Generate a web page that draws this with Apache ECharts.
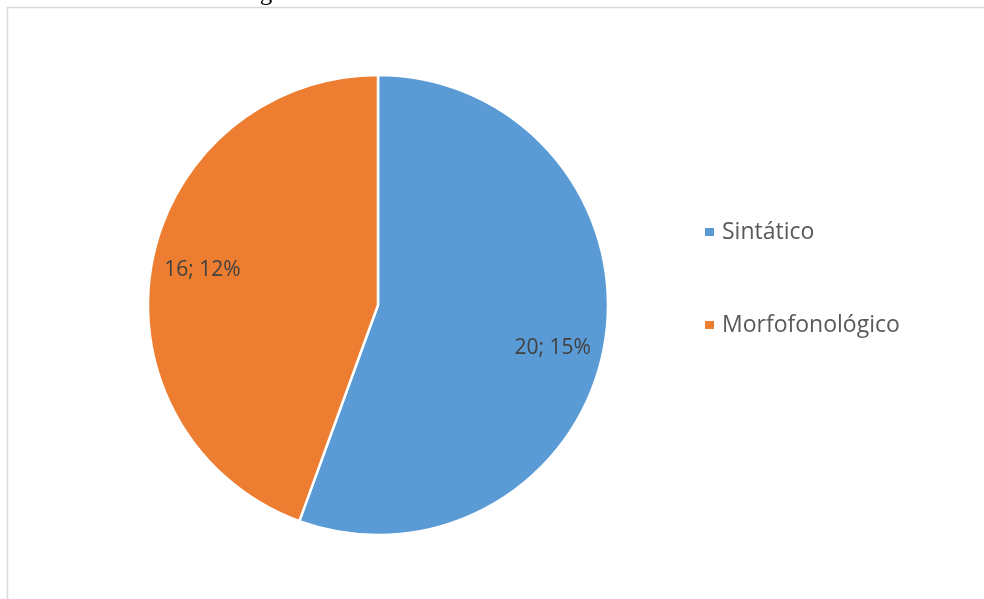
<!DOCTYPE html>
<html>
<head>
<meta charset="utf-8">
<script src="https://cdn.jsdelivr.net/npm/echarts@6/dist/echarts.min.js"></script>
<style>
  html, body { margin: 0; padding: 0; background: #ffffff; }
  #chart { width: 984px; height: 599px; }
</style>
</head>
<body>
<div id="chart"></div>
<script>
// Grammatical interference by type: occurrences and share of the total
const categories = ['Sintático', 'Morfofonológico'];
const counts = [20, 16];
const shares = [15, 12];
const colors = ['#5B9BD5', '#ED7D31'];
// small nudges so each label sits where the layout puts it
const labelOffsets = [[-5, 11], [4, -3]];

const pieData = categories.map((name, i) => ({
  name: name,
  value: counts[i],
  share: shares[i],
  itemStyle: { color: colors[i] }
}));

const chart = echarts.init(document.getElementById('chart'), null, { renderer: 'canvas' });

const center = [378, 305];
const radius = 230;

chart.setOption({
  backgroundColor: '#ffffff',
  animation: false,
  graphic: [
    {
      type: 'text',
      left: 10,
      top: -19,
      style: {
        text: 'Gráfico 3 - Interferência gramatical',
        font: '25px "Liberation Serif"',
        fill: '#000000'
      }
    },
    {
      type: 'rect',
      shape: { x: 7.5, y: 7.5, width: 1100, height: 700 },
      style: { fill: 'none', stroke: '#d9d9d9', lineWidth: 1.5 },
      silent: true
    }
  ],
  legend: {
    orient: 'vertical',
    left: 703,
    top: 220,
    padding: 0,
    itemWidth: 11,
    itemHeight: 10,
    itemGap: 69,
    icon: 'rect',
    data: categories,
    textStyle: {
      fontFamily: 'Open Sans',
      fontSize: 23,
      lineHeight: 24,
      color: '#595959',
      padding: [0, 0, 0, 2]
    }
  },
  series: [
    {
      type: 'pie',
      center: center,
      radius: radius,
      startAngle: 90,
      clockwise: true,
      data: pieData,
      label: { show: false },
      labelLine: { show: false },
      emphasis: { disabled: true },
      itemStyle: { borderColor: '#ffffff', borderWidth: 2.5 }
    },
    {
      // transparent ring that carries the data labels at ~78% of the radius
      type: 'pie',
      center: center,
      radius: [radius * 0.56, radius],
      startAngle: 90,
      clockwise: true,
      silent: true,
      data: pieData.map((d, i) => ({
        name: d.name,
        value: d.value,
        share: d.share,
        itemStyle: { color: 'rgba(0,0,0,0)' },
        label: { offset: labelOffsets[i] }
      })),
      legendHoverLink: false,
      label: {
        show: true,
        position: 'inside',
        formatter: p => p.value + '; ' + p.data.share + '%',
        fontFamily: 'Open Sans',
        fontSize: 21,
        color: '#404040'
      },
      labelLine: { show: false },
      emphasis: { disabled: true }
    }
  ]
});
</script>
</body>
</html>
